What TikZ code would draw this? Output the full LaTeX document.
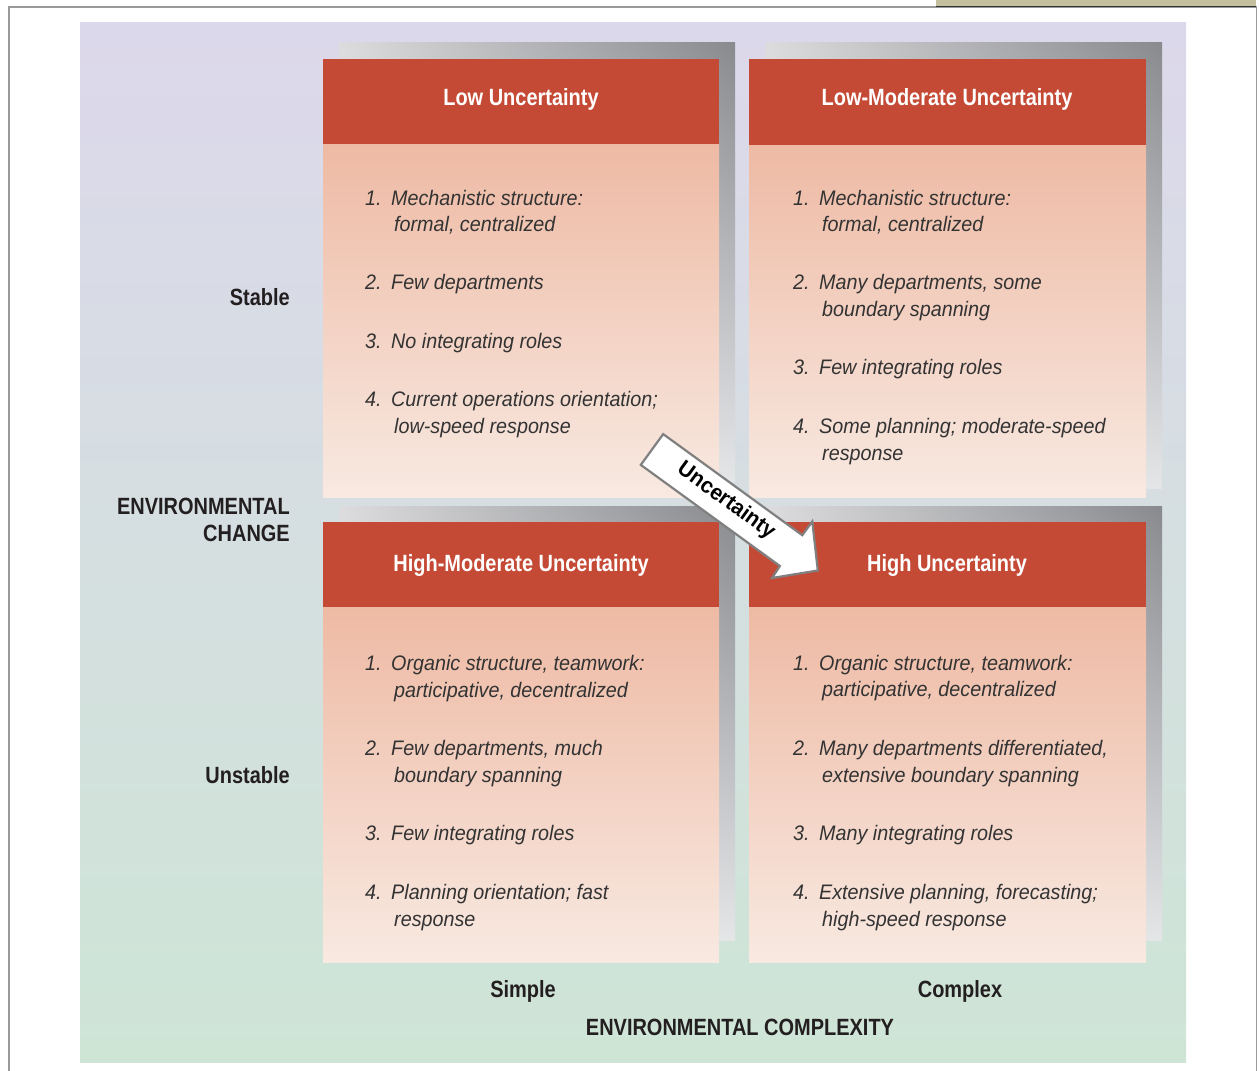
\documentclass[tikz,border=0pt]{standalone}
\usepackage{fontspec}
\setmainfont{Liberation Sans}
\newfontfamily\hdrfont[FakeStretch=0.85]{Liberation Sans}
\newfontfamily\bodyfont[FakeStretch=0.94]{Liberation Sans}
\newfontfamily\arrfont[FakeStretch=0.95]{Liberation Sans}
\usetikzlibrary{shadings}
\definecolor{hdrred}{HTML}{C54A36}
\definecolor{bodytop}{HTML}{EEBAA4}
\definecolor{bodybot}{HTML}{F8E9E1}
\definecolor{bgtop}{HTML}{DCD8EB}
\definecolor{bgmid}{HTML}{D5DFE2}
\definecolor{bgbot}{HTML}{CEE5D6}
\definecolor{shUL}{HTML}{DCDCDE}
\definecolor{shUR}{HTML}{898A8E}
\definecolor{shLL}{HTML}{EEEEF0}
\definecolor{shLR}{HTML}{E4E5E7}
\definecolor{txtgray}{HTML}{333333}
\definecolor{lblblack}{HTML}{231F20}
\definecolor{framegray}{HTML}{999999}
\definecolor{tanbar}{HTML}{C4C09E}
\definecolor{arrgray}{HTML}{808080}
\tikzset{
  hdrtxt/.style={anchor=base, inner sep=0pt, text=white, font=\hdrfont\bfseries\fontsize{23.5}{27}\selectfont},
  lbltxt/.style={inner sep=0pt, text=lblblack, font=\hdrfont\bfseries\fontsize{23.5}{27}\selectfont},
  itemtxt/.style={anchor=base west, inner sep=0pt, text=txtgray, font=\bodyfont\itshape\fontsize{21}{26.5}\selectfont},
  arrtxt/.style={inner sep=0pt, text=black, font=\arrfont\bfseries\fontsize{22}{26}\selectfont},
  shadowbox/.style={upper left=shUL, upper right=shUR, lower left=shLL, lower right=shLR},
  bodybox/.style={top color=bodytop, bottom color=bodybot}
}
% one-line item: name, num x, baseline y, number, text
\newcommand\qone[5]{%
  \node[itemtxt] (#1n) at (#2,#3) {#4.};
  \node[itemtxt] (#1a) at (#2+26,#3) {#5};}
% two-line item: name, num x, baseline y, number, line1, line2
\newcommand\qtwo[6]{%
  \node[itemtxt] (#1n) at (#2,#3) {#4.};
  \node[itemtxt] (#1a) at (#2+26,#3) {#5};
  \node[itemtxt] (#1b) at (#2+29,#3+26.7) {#6};}
\begin{document}
\begin{tikzpicture}[x=1pt,y=-1pt]
\useasboundingbox (0,0) rectangle (1259,1071);
\fill[white] (0,0) rectangle (1259,1071);
% frame
\fill[tanbar] (936,0) rectangle (1256,6);
\draw[framegray, line width=1.6pt] (9,1071) -- (9,7) -- (1256.5,7) -- (1256.5,1071);
\draw[black!80, line width=1.2pt] (936,6.6) -- (1256,6.6);
% background panel
\shade[top color=bgtop, middle color=bgmid, bottom color=bgbot] (80,22) rectangle (1186,1062);
% shadows
\shade[shadowbox] (339,42) rectangle (735,481);
\shade[shadowbox] (765,42) rectangle (1162,488);
\shade[shadowbox] (339,506) rectangle (735,940);
\shade[shadowbox] (765,506) rectangle (1162,940);
% boxes
\shade[bodybox] (323,144) rectangle (719,497);
\shade[bodybox] (749,144) rectangle (1146,497);
\shade[bodybox] (323,607) rectangle (719,962);
\shade[bodybox] (749,607) rectangle (1146,962);
\fill[hdrred] (323,59) rectangle (719,144);
\fill[hdrred] (749,59) rectangle (1146,145);
\fill[hdrred] (323,522) rectangle (719,607);
\fill[hdrred] (749,522) rectangle (1146,607);
% headers
\node[hdrtxt] (h1) at (521,105.5) {Low Uncertainty};
\node[hdrtxt] (h2) at (947,105.5) {Low-Moderate Uncertainty};
\node[hdrtxt] (h3) at (521,571.5) {High-Moderate Uncertainty};
\node[hdrtxt] (h4) at (947,571.5) {High Uncertainty};
% top-left items
\qtwo{tla}{365}{205}{1}{Mechanistic structure:}{formal, centralized}
\qone{tlb}{365}{289.5}{2}{Few departments}
\qone{tlc}{365}{348.5}{3}{No integrating roles}
\qtwo{tld}{365}{406.5}{4}{Current operations orientation;}{low-speed response}
% top-right items
\qtwo{tra}{793}{205}{1}{Mechanistic structure:}{formal, centralized}
\qtwo{trb}{793}{289.5}{2}{Many departments, some}{boundary spanning}
\qone{trc}{793}{374.5}{3}{Few integrating roles}
\qtwo{trd}{793}{433.5}{4}{Some planning; moderate-speed}{response}
% bottom-left items
\qtwo{bla}{365}{670.5}{1}{Organic structure, teamwork:}{participative, decentralized}
\qtwo{blb}{365}{755.5}{2}{Few departments, much}{boundary spanning}
\qone{blc}{365}{840.5}{3}{Few integrating roles}
\qtwo{bld}{365}{899.5}{4}{Planning orientation; fast}{response}
% bottom-right items
\qtwo{bra}{793}{670}{1}{Organic structure, teamwork:}{participative, decentralized}
\qtwo{brb}{793}{755.5}{2}{Many departments differentiated,}{extensive boundary spanning}
\qone{brc}{793}{840.5}{3}{Many integrating roles}
\qtwo{brd}{793}{899.5}{4}{Extensive planning, forecasting;}{high-speed response}
% axis labels
\node[lbltxt, anchor=base east] (stable) at (290,305) {Stable};
\node[lbltxt, anchor=base east] (envch1) at (290,514) {ENVIRONMENTAL};
\node[lbltxt, anchor=base east] (envch2) at (290,541) {CHANGE};
\node[lbltxt, anchor=base east] (unstable) at (290,783.5) {Unstable};
\node[lbltxt, anchor=base] (simple) at (523,997) {Simple};
\node[lbltxt, anchor=base] (complex) at (960,997) {Complex};
\node[lbltxt, anchor=base] (envcx) at (740,1035) {ENVIRONMENTAL COMPLEXITY};
% uncertainty arrow
\draw[arrgray, line width=2.2pt, fill=white, line join=miter]
  (663.2,434.1) -- (802.3,535.2) -- (812.3,521.5) -- (817.8,570.5)
  -- (772,578) -- (779.9,566) -- (640.8,464.9) -- cycle;
\node[arrtxt, rotate=-36] (unc) at (726,501) {Uncertainty};
\end{tikzpicture}
\end{document}
